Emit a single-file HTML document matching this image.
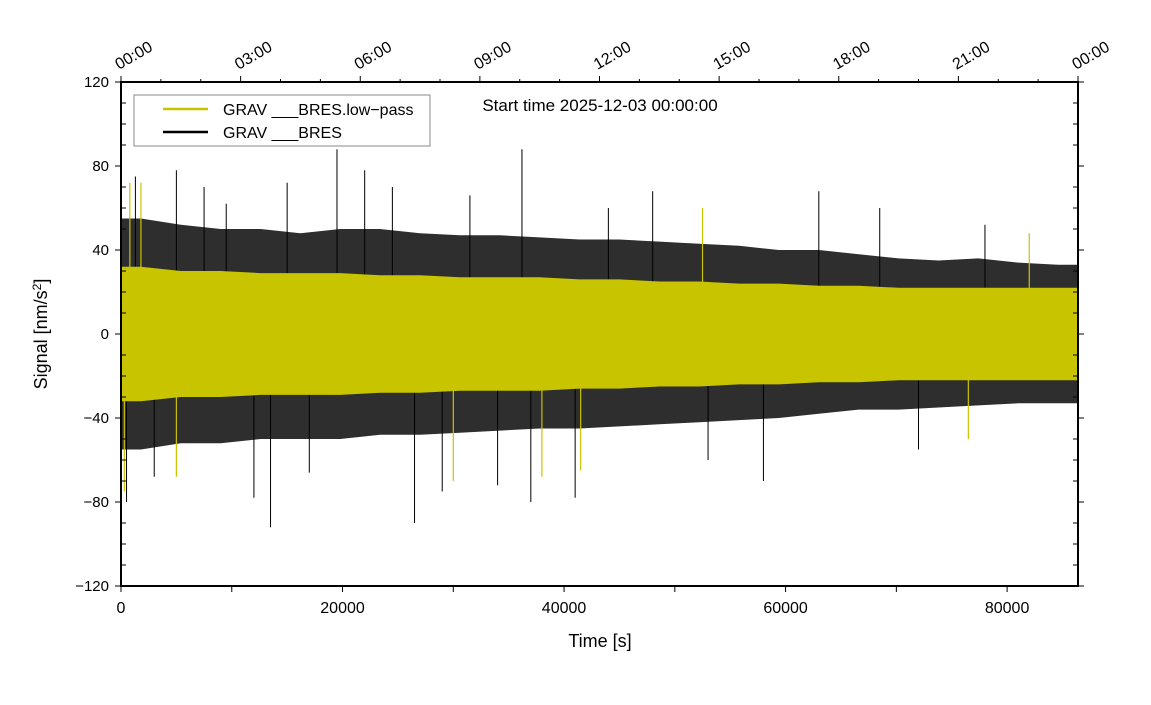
<!DOCTYPE html>
<html><head><meta charset="utf-8"><style>
body{margin:0;background:#fff;font-family:"Liberation Sans",sans-serif}
svg text{font-family:"Liberation Sans",sans-serif;fill:#000}
</style></head><body>
<svg width="1151" height="700" xmlns="http://www.w3.org/2000/svg">
<g id="plot"></g>
</svg>
<script>
const xTicks=[0,20000,40000,60000,80000];
const yTicks=[-120,-80,-40,0,40,80,120];
const topLabels=["00:00","03:00","06:00","09:00","12:00","15:00","18:00","21:00","00:00"];
const binStart=[0,3600,7200,10800,14400,18000,21600,25200,28800,32400,36000,39600,43200,46800,50400,54000,57600,61200,64800,68400,72000,75600,79200,82800];
const blackUpper=[55,52,50,50,48,50,50,48,47,47,46,45,45,44,43,42,40,40,38,36,35,36,34,33];
const blackLower=[-55,-52,-52,-50,-50,-50,-48,-48,-47,-46,-45,-45,-44,-43,-42,-41,-40,-38,-36,-36,-35,-34,-33,-33];
const yellowUpper=[32,30,30,29,29,29,28,28,27,27,27,26,26,25,25,24,24,23,23,22,22,22,22,22];
const yellowLower=[-32,-30,-30,-29,-29,-29,-28,-28,-27,-27,-27,-26,-26,-25,-25,-24,-24,-23,-23,-22,-22,-22,-22,-22];
const blackSpikeT=[500,1300,3000,5000,7500,9500,12000,13500,15000,17000,19500,22000,24500,26500,29000,31500,34000,36200,37000,41000,44000,48000,53000,58000,63000,68500,72000,78000];
const blackSpikeV=[-80,75,-68,78,70,62,-78,-92,72,-66,88,78,70,-90,-75,66,-72,88,-80,-78,60,68,-60,-70,68,60,-55,52];
const yellowSpikeT=[300,800,1800,5000,30000,38000,41500,52500,76500,82000];
const yellowSpikeV=[-75,72,72,-68,-70,-68,-65,60,-50,48];

const L=121,R=1078,T=82,B=586,XMAX=86400;
const X=t=>L+(R-L)*t/XMAX;
const Y=v=>T+(B-T)*(120-v)/240;
const ns="http://www.w3.org/2000/svg";
const g=document.getElementById('plot');
function el(tag,attrs,parent){const e=document.createElementNS(ns,tag);for(const k in attrs)e.setAttribute(k,attrs[k]);(parent||g).appendChild(e);return e;}
function band(up,lo,fill,name){
  const n=binStart.length,c=i=>X(binStart[i]+1800);
  let pts=[X(0)+','+Y(up[0])];
  for(let i=0;i<n;i++)pts.push(c(i)+','+Y(up[i]));
  pts.push(X(XMAX)+','+Y(up[n-1]));pts.push(X(XMAX)+','+Y(lo[n-1]));
  for(let i=n-1;i>=0;i--)pts.push(c(i)+','+Y(lo[i]));
  pts.push(X(0)+','+Y(lo[0]));
  const p=el('polygon',{points:pts.join(' '),fill:fill});
  
  
}
band(blackUpper,blackLower,'#2e2e2e','raw-signal-envelope');
blackSpikeT.forEach((t,i)=>{
  const l=el('line',{x1:X(t),x2:X(t),y1:Y(0),y2:Y(blackSpikeV[i]),stroke:'#000','stroke-width':1});
  
  
});
band(yellowUpper,yellowLower,'#c8c400','lowpass-signal-envelope');
yellowSpikeT.forEach((t,i)=>{
  const l=el('line',{x1:X(t),x2:X(t),y1:Y(0),y2:Y(yellowSpikeV[i]),stroke:'#c8c400','stroke-width':1.2});
  
  
});
const fr=el('rect',{x:L,y:T,width:R-L,height:B-T,fill:'none',stroke:'#000','stroke-width':2});


for(let v=-120;v<=120;v+=10){
  const maj=v%40===0;
  el('line',{x1:L-(maj?6:0),x2:L+(maj?0:5),y1:Y(v),y2:Y(v),stroke:'#000','stroke-width':1});
  el('line',{x1:R+(maj?6:0),x2:R-(maj?0:5),y1:Y(v),y2:Y(v),stroke:'#000','stroke-width':1});
}
yTicks.forEach(v=>{
  const tx=el('text',{x:L-12,y:Y(v)+5,'text-anchor':'end','font-size':15});
  tx.textContent=v<0?'\u2212'+(-v):String(v);
  
  
});
for(let t=0;t<=XMAX;t+=10000){el('line',{x1:X(t),x2:X(t),y1:B,y2:B+6,stroke:'#000'});}
xTicks.forEach(t=>{
  const tx=el('text',{x:X(t),y:B+27,'text-anchor':'middle','font-size':16});
  tx.textContent=String(t);
  
  
});
for(let h=0;h<=24;h++){const maj=h%3===0;el('line',{x1:X(h*3600),x2:X(h*3600),y1:T,y2:T-(maj?6:3),stroke:'#000'});}
topLabels.forEach((s,i)=>{
  const x=X(i*3*3600)-2,y=T-12;
  const tx=el('text',{x:x,y:y,'font-size':16,'text-anchor':'start'});
  tx.setAttribute('transform',`rotate(-30 ${x} ${y})`);
  tx.textContent=s;
  
  
});
let t1=el('text',{x:600,y:647,'text-anchor':'middle','font-size':18});t1.textContent='Time [s]';

let t2=el('text',{x:0,y:0,'text-anchor':'middle','font-size':18,transform:'translate(47,334) rotate(-90)'});
t2.innerHTML='Signal [nm/s<tspan dy="-6" font-size="12">2</tspan><tspan dy="6">]</tspan>';

let t3=el('text',{x:600,y:111,'text-anchor':'middle','font-size':17});t3.textContent='Start time 2025-12-03 00:00:00';

const lg=el('g',{});

el('rect',{x:134,y:95,width:296,height:51,fill:'#fff',stroke:'#888','stroke-width':1},lg);
el('line',{x1:163,x2:208,y1:109,y2:109,stroke:'#c8c400','stroke-width':2.5},lg);
el('line',{x1:163,x2:208,y1:132,y2:132,stroke:'#000','stroke-width':2.5},lg);
let l1=el('text',{x:223,y:115,'font-size':16},lg);l1.textContent='GRAV ___BRES.low\u2212pass';

let l2=el('text',{x:223,y:138,'font-size':16},lg);l2.textContent='GRAV ___BRES';

</script>
</body></html>
